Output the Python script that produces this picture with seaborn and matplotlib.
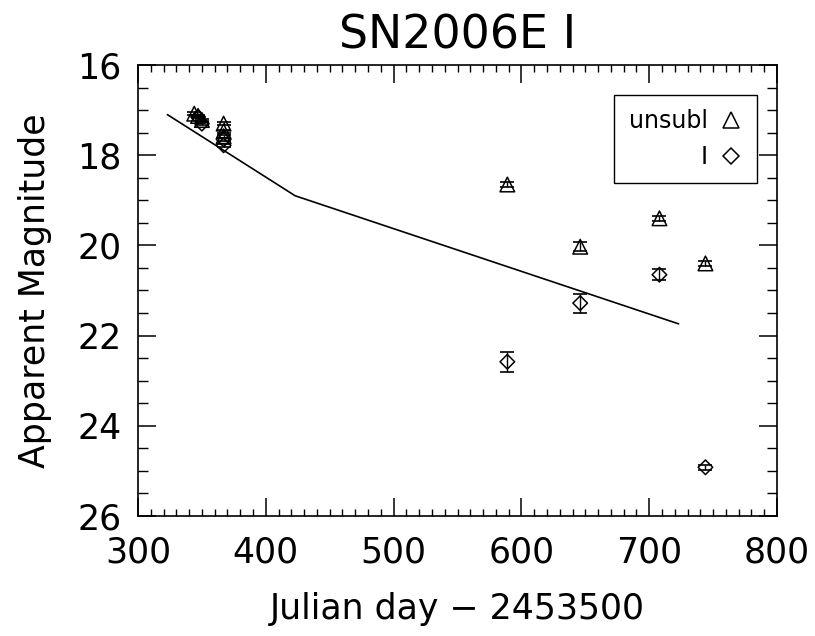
import numpy as np
import pandas as pd
import seaborn as sns
import matplotlib
matplotlib.use("Agg")
import matplotlib.pyplot as plt
from matplotlib.lines import Line2D
from matplotlib.ticker import MultipleLocator

# Photometry of SN2006E (days relative to JD 2453500)
unsub_day = [344, 347, 350, 367, 367, 367, 589, 646, 708, 744]
unsub_mag = [17.08, 17.13, 17.22, 17.30, 17.47, 17.58, 18.65, 20.03, 19.40, 20.40]
unsub_err = [0.03, 0.03, 0.03, 0.03, 0.03, 0.03, 0.05, 0.10, 0.05, 0.05]

i_day = [347, 350, 367, 367, 589, 646, 708, 744]
i_mag = [17.15, 17.30, 17.65, 17.78, 22.58, 21.28, 20.65, 24.92]
i_err = [0.03, 0.03, 0.03, 0.03, 0.22, 0.21, 0.12, 0.06]

# Model light curve
model_day = [323, 423, 723]
model_mag = [17.10, 18.90, 21.74]

unsub = pd.DataFrame({"day": unsub_day, "mag": unsub_mag, "err": unsub_err})
iband = pd.DataFrame({"day": i_day, "mag": i_mag, "err": i_err})
model = pd.DataFrame({"day": model_day, "mag": model_mag})

sns.set_theme(style="ticks")
plt.rcParams["font.family"] = ["DejaVu Sans"]
plt.rcParams["text.color"] = "black"
plt.rcParams["axes.labelcolor"] = "black"

fig = plt.figure(figsize=(8.15, 6.36), dpi=100)
ax = fig.add_axes([0.1693, 0.1887, 0.7841, 0.7091])

sns.lineplot(data=model, x="day", y="mag", ax=ax, color="black", linewidth=1.2)

sns.scatterplot(data=unsub, x="day", y="mag", ax=ax, marker="^", s=110,
                facecolor="none", edgecolor="black", linewidth=1.1)
sns.scatterplot(data=iband, x="day", y="mag", ax=ax, marker="D", s=55,
                facecolor="none", edgecolor="black", linewidth=1.1)
ax.errorbar(unsub["day"], unsub["mag"], yerr=unsub["err"], fmt="none",
            ecolor="black", elinewidth=1, capsize=5, capthick=1.2)
ax.errorbar(iband["day"], iband["mag"], yerr=iband["err"], fmt="none",
            ecolor="black", elinewidth=1, capsize=5, capthick=1.2)

ax.set_xlim(300, 800)
ax.set_ylim(26, 16)
ax.xaxis.set_major_locator(MultipleLocator(100))
ax.xaxis.set_minor_locator(MultipleLocator(10))
ax.yaxis.set_major_locator(MultipleLocator(2))
ax.yaxis.set_minor_locator(MultipleLocator(0.5))

for sp in ax.spines.values():
    sp.set_visible(True)
    sp.set_color("black")
    sp.set_linewidth(1.2)

ax.tick_params(which="both", direction="in", top=True, right=True,
               colors="black", labelsize=25)
ax.tick_params(axis="x", which="major", length=13, width=1.1, pad=14)
ax.tick_params(axis="x", which="minor", length=5, width=1)
ax.tick_params(axis="y", which="major", length=13, width=1.1, pad=12)
ax.tick_params(axis="y", which="minor", length=7, width=1)

fig.canvas.draw()
ylabels = ax.get_yticklabels()
ylabels[0].set_va("top")
ylabels[-1].set_va("bottom")

ax.set_xlabel("Julian day \u2212 2453500", fontsize=25, labelpad=16)
ax.set_ylabel("Apparent Magnitude", fontsize=25, labelpad=18)
ax.set_title("SN2006E I", fontsize=33, pad=12)

handles = [
    Line2D([], [], marker="^", linestyle="none", markersize=11,
           markerfacecolor="none", markeredgecolor="black", markeredgewidth=1.1),
    Line2D([], [], marker="D", linestyle="none", markersize=8,
           markerfacecolor="none", markeredgecolor="black", markeredgewidth=1.1),
]
leg = ax.legend(handles, ["unsubl", "I"], loc="upper right",
                bbox_to_anchor=(0.969, 0.933), markerfirst=False,
                fontsize=17, frameon=True, fancybox=False, framealpha=1,
                edgecolor="black", handlelength=1.0, handletextpad=0.5,
                borderpad=0.6, labelspacing=0.5, borderaxespad=0)
leg.get_frame().set_linewidth(1.0)

fig.savefig("out.png", dpi=100)
